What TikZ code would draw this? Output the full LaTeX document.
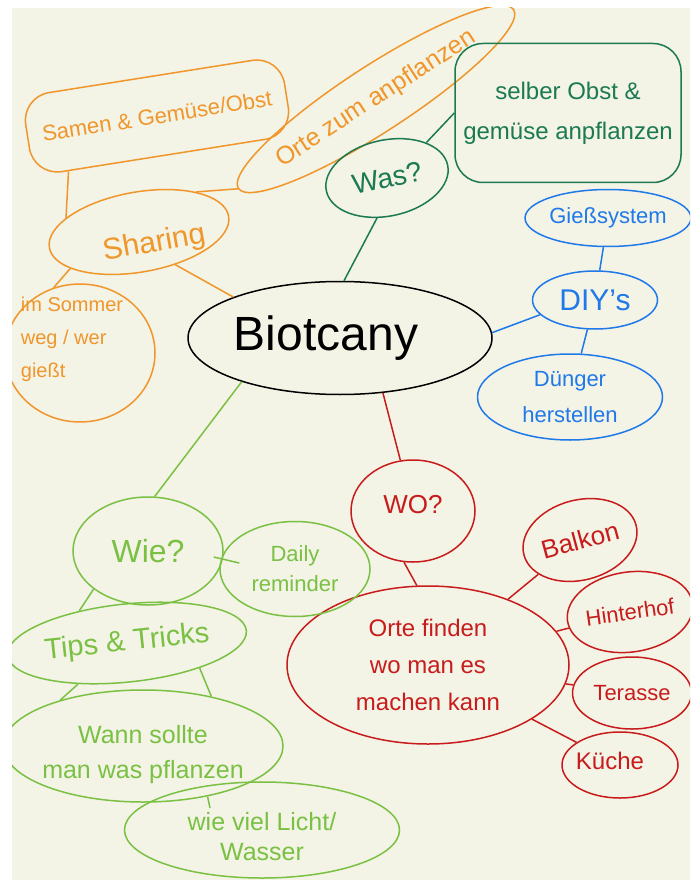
\documentclass[tikz,border=0pt]{standalone}
\usepackage{fontspec}
\setmainfont{Liberation Sans}
\usetikzlibrary{shapes.geometric,calc}
\definecolor{bg}{HTML}{F3F3E6}
\definecolor{org}{HTML}{F0962A}
\definecolor{dgr}{HTML}{1B7A52}
\definecolor{blu}{HTML}{2079E8}
\definecolor{rd}{HTML}{C81C1C}
\definecolor{lgr}{HTML}{7AC143}
\newcommand{\fs}[2]{\fontsize{#1pt}{#2pt}\selectfont}
% place text with an offset inside a fixed-size shape: #1 = twice the x offset, #2 = baseline raise
\newcommand{\tx}[3]{\makebox[0pt][c]{\hspace*{#1}\smash{\raisebox{#2}{#3}}}}
\tikzset{
  bub/.style={draw, ellipse, line width=1.5pt, inner sep=0pt, align=center},
  rbox/.style={draw, rectangle, rounded corners=28pt, line width=1.5pt, inner sep=0pt, align=center},
  conn/.style={line width=1.5pt}
}
\begin{document}
\begin{tikzpicture}[x=1pt,y=-1pt]
\useasboundingbox (0,0) rectangle (696,882);
\fill[white] (0,0) rectangle (696,882);
\fill[bg] (12,8) rectangle (690,880);
\begin{scope}
\clip (12,8) rectangle (690,880);

% central
\node[bub, black, minimum width=304pt, minimum height=113pt, font=\fs{48}{52}] (bio) at (340,338) {Biotcany\hspace*{28pt}};

% orange
\node[rbox, org, minimum width=262pt, minimum height=80pt, rotate=9, font=\fs{22}{26}] (samen) at (157,116) {Samen \& Gemüse/Obst};
\node[bub, org, minimum width=298pt, minimum height=66pt, rotate=33, font=\fs{25}{30}] (orte) at (376,99) {Orte zum anpflanzen};
\node[bub, org, minimum width=182pt, minimum height=80pt, rotate=10, font=\fs{30}{34}] (sharing) at (139,232) {\tx{26pt}{-22pt}{Sharing}};
\node[bub, org, minimum width=150pt, minimum height=138pt, font=\fs{20}{33}] (sommer) at (80,353) {\tx{-16pt}{10pt}{\begin{tabular}{@{}l@{}}im Sommer\\weg / wer\\gießt\end{tabular}}};

% dark green
\node[bub, dgr, minimum width=124pt, minimum height=76pt, rotate=12, font=\fs{28}{32}] (was) at (387,178) {Was?};
\node[rbox, dgr, minimum width=226pt, minimum height=139pt, font=\fs{24}{40}] (selber) at (568,113) {selber Obst \&\\gemüse anpflanzen};

% blue
\node[bub, blu, minimum width=164pt, minimum height=57pt, font=\fs{22}{26}] (giess) at (608,218) {Gießsystem};
\node[bub, blu, minimum width=125pt, minimum height=58pt, font=\fs{30}{34}] (diy) at (595,300) {DIY’s};
\node[bub, blu, minimum width=185pt, minimum height=86pt, font=\fs{22}{36}] (duenger) at (570,397) {Dünger\\herstellen};

% red
\node[bub, rd, minimum width=124pt, minimum height=102pt, font=\fs{26}{30}] (wo) at (413,511) {\tx{0pt}{-2pt}{WO?}};
\node[bub, rd, minimum width=282pt, minimum height=158pt, font=\fs{24}{37}] (ortef) at (428,665) {Orte finden\\wo man es\\machen kann};
\node[bub, rd, minimum width=116pt, minimum height=80pt, rotate=15, font=\fs{26}{30}] (balkon) at (580,540) {Balkon};
\node[bub, rd, minimum width=118pt, minimum height=80pt, rotate=8, font=\fs{22}{26}] (hinter) at (630,612) {Hinterhof};
\node[bub, rd, minimum width=119pt, minimum height=72pt, font=\fs{22}{26}] (terasse) at (632,693) {Terasse};
\node[bub, rd, minimum width=116pt, minimum height=66pt, font=\fs{24}{28}] (kueche) at (620,765) {\tx{-20pt}{-4pt}{Küche}};

% light green
\node[bub, lgr, minimum width=150pt, minimum height=108pt, font=\fs{32}{36}] (wie) at (148,551) {Wie?};
\node[bub, lgr, minimum width=150pt, minimum height=95pt, font=\fs{22}{30}] (daily) at (295,569) {Daily\\reminder};
\node[bub, lgr, minimum width=240pt, minimum height=78pt, rotate=6, font=\fs{29}{33}] (tips) at (127,643) {Tips \& Tricks};
\node[bub, lgr, minimum width=280pt, minimum height=112pt, font=\fs{25}{35}] (wann) at (143,746) {\tx{0pt}{-14pt}{\begin{tabular}{@{}c@{}}Wann sollte\\man was pflanzen\end{tabular}}};
\node[bub, lgr, minimum width=275pt, minimum height=96pt, font=\fs{25}{30}] (viel) at (262,830) {\tx{0pt}{-16pt}{\begin{tabular}{@{}c@{}}wie viel Licht/\\Wasser\end{tabular}}};

% connectors orange
\draw[conn, org] (samen.203) -- (sharing.159);
\draw[conn, org] (sharing.25) -- (orte.west);
\draw[conn, org] (sharing.-52) -- (bio.159);
\draw[conn, org] (sharing.198) -- (sommer.112);
% dark green
\draw[conn, dgr] (was.244) -- (bio.86);
\draw[conn, dgr] (was.30) -- (selber.west);
% blue
\draw[conn, blu] (bio.2) -- (diy.195);
\draw[conn, blu] (giess) -- (diy);
\draw[conn, blu] (diy) -- (duenger);
% red
\draw[conn, rd] (bio.-52) -- (wo.104);
\draw[conn, rd] (wo.-100) -- (ortef.98);
\draw[conn, rd] (ortef) -- (balkon);
\draw[conn, rd] (ortef) -- (hinter);
\draw[conn, rd] (ortef) -- (terasse);
\draw[conn, rd] (ortef) -- (kueche);
% light green
\draw[conn, lgr] (bio.204) -- (wie.83);
\draw[conn, lgr] ($(wie.east)+(-10,6)$) -- ($(daily.west)+(20,-6)$);
\draw[conn, lgr] (wie.215) -- (tips.140);
\draw[conn, lgr] (tips.214) -- (wann.151);
\draw[conn, lgr] (tips.-25) -- (wann.36);
\draw[conn, lgr] (wann.-38) -- ($(viel.center)+(-52,-22)$);
\end{scope}
\end{tikzpicture}
\end{document}
